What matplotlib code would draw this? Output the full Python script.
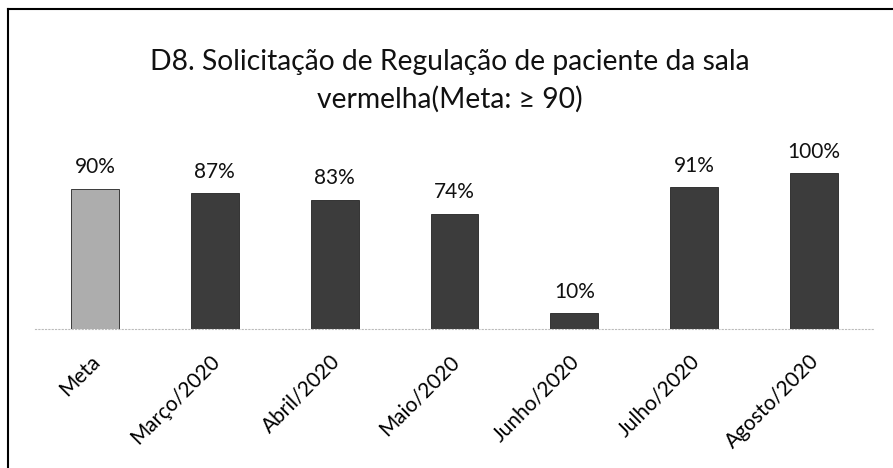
import matplotlib.pyplot as plt
from matplotlib.lines import Line2D
from matplotlib.transforms import ScaledTranslation

# Chart data
categories = ['Meta', 'Março/2020', 'Abril/2020', 'Maio/2020',
              'Junho/2020', 'Julho/2020', 'Agosto/2020']
values = [90, 87, 83, 74, 10, 91, 100]
bar_colors = ['#adadad', '#3c3c3c', '#3c3c3c', '#3c3c3c',
              '#3c3c3c', '#3c3c3c', '#3c3c3c']
title = 'D8. Solicitação de Regulação de paciente da sala\nvermelha(Meta: ≥ 90)'

plt.rcParams['font.family'] = ['Lato', 'DejaVu Sans']

W, H = 893, 468
fig = plt.figure(figsize=(W / 100, H / 100), dpi=100)

# plot area in pixel terms: x 35..874, baseline at y=329
ax = fig.add_axes([35 / W, (H - 329) / H, 839 / W, 187.2 / H])
x = list(range(len(categories)))
ax.bar(x, values, width=0.40, color=bar_colors, edgecolor='#222222',
       linewidth=0.6)
ax.set_xlim(-0.5, len(categories) - 0.5)
ax.set_ylim(0, 120)

for xi, v in zip(x, values):
    ax.annotate(f'{v}%', (xi, v), xytext=(0, 8), textcoords='offset points',
                ha='center', va='bottom', fontsize=15, color='#111111')

ax.set_xticks(x)
ax.set_xticklabels(categories, rotation=45, ha='right', va='top',
                   rotation_mode='anchor', fontsize=15)
ax.tick_params(axis='x', length=0, pad=16)
shift = ScaledTranslation(-5 / 100, 0, fig.dpi_scale_trans)
for lab in ax.get_xticklabels():
    lab.set_transform(lab.get_transform() + shift)
ax.set_yticks([])
for side in ['top', 'right', 'left']:
    ax.spines[side].set_visible(False)
ax.spines['bottom'].set_color('#bbbbbb')
ax.spines['bottom'].set_linestyle((0, (1, 2)))
ax.spines['bottom'].set_linewidth(0.8)

fig.text(450 / W, 1 - 81 / H, title, ha='center', va='center',
         fontsize=20.3, linespacing=1.5, color='#111111')

# chart border (left and top edges visible in the scan)
fig.add_artist(Line2D([8 / W, 8 / W], [0, 1 - 9 / H], color='black',
                      linewidth=1.5, transform=fig.transFigure))
fig.add_artist(Line2D([8 / W, 1], [1 - 9 / H, 1 - 9 / H], color='black',
                      linewidth=1.5, transform=fig.transFigure))

fig.savefig('out.png', dpi=100)
